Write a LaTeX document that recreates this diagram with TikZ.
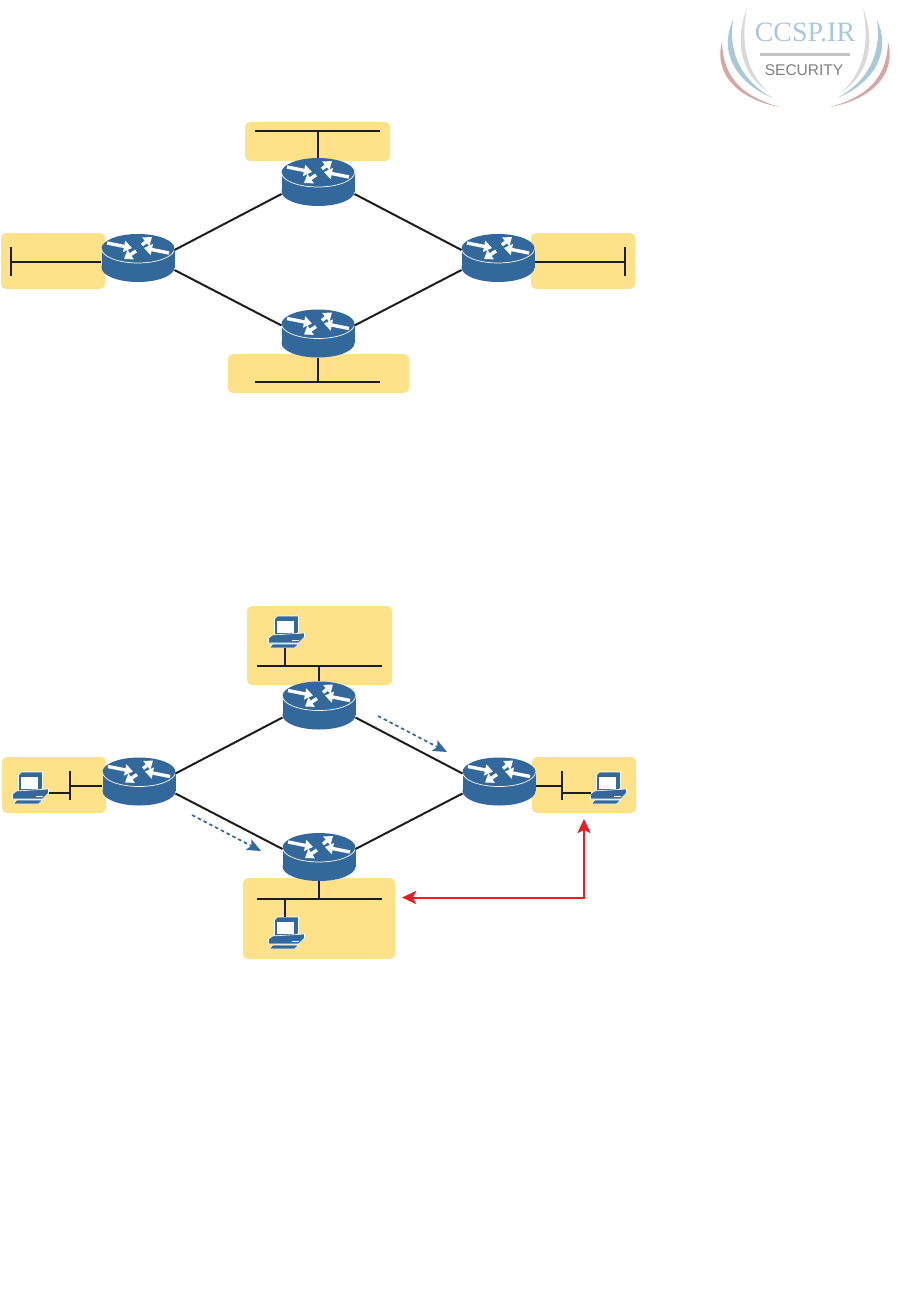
\documentclass[tikz,border=0pt]{standalone}
\usepackage{fontspec}
\usetikzlibrary{arrows.meta}
\newfontfamily\logoserif{Liberation Serif}
\newfontfamily\logosans{Liberation Sans}
\definecolor{routerblue}{HTML}{33689C}
\definecolor{lanyellow}{HTML}{FDE28A}
\definecolor{lanblack}{HTML}{1E1E1E}
\definecolor{pathred}{HTML}{ED1C24}
\definecolor{logoblue}{HTML}{A9C9D9}
\definecolor{logored}{HTML}{D8A5A5}
\definecolor{logogray}{HTML}{D9D9D9}
\tikzset{
  rtarrow/.style={white, line width=3.4pt, -{Triangle[length=8pt,width=11pt]}},
  router/.pic={
    \fill[routerblue] (-36.5,-9.5) rectangle (36.5,9.5);
    \fill[routerblue] (0,9.5) ellipse [x radius=36.5, y radius=14.5];
    \fill[routerblue] (0,-9.5) ellipse [x radius=36.5, y radius=14.5];
    \draw[white, line width=.7pt] (-36.5,-9.5) arc[start angle=180, end angle=0, x radius=36.5, y radius=14.5];
    \draw[rtarrow] (-31,-15) -- (-6,-10);
    \draw[rtarrow] (4,-13) -- (14,-21);
    \draw[rtarrow] (31,-5) -- (6,-10);
    \draw[rtarrow] (-2,-7) -- (-14,1);
    \node[minimum width=73pt, minimum height=48pt, inner sep=0pt] (-body) at (0,0) {};
    \coordinate (-ul) at (-36.5,-8);
    \coordinate (-ur) at (36.5,-8);
    \coordinate (-ll) at (-36.5,12);
    \coordinate (-lr) at (36.5,12);
  },
  pc/.pic={
    \fill[routerblue, draw=white, line width=.6pt] (6,3) -- (9,0) -- (30,0) -- (30,16) -- (27,19) -- (6,19) -- cycle;
    \fill[white] (8,5) rectangle (25,17);
    \fill[routerblue, draw=white, line width=.6pt] (0,22) -- (4,19) -- (36,17) -- (36,21) -- (30,27) -- (0,27) -- cycle;
    \fill[white] (23,23.5) rectangle (30,24.5);
    \fill[routerblue, draw=white, line width=.6pt] (4,28) -- (30,28) -- (26,32) -- (1,32) -- cycle;
    \coordinate (-top) at (16.5,0);
    \coordinate (-bot) at (16.5,32);
    \coordinate (-left) at (0,21);
    \coordinate (-right) at (36,21);
  },
  lanbox/.style={fill=lanyellow, rounded corners=5pt, inner sep=0pt},
  lanbar/.style={fill=lanblack, inner sep=0pt, minimum width=#1, minimum height=2pt},
  lanpost/.style={fill=lanblack, inner sep=0pt, minimum width=2pt, minimum height=#1},
  lan/.style={draw=lanblack, line width=2pt},
  link/.style={draw=lanblack, line width=2pt},
  flow/.style={routerblue, line width=1.7pt, dash pattern=on 3.5pt off 3pt, -{Stealth[length=14pt,width=12pt,inset=3pt]}},
  pathline/.style={pathred, line width=2pt, {Stealth[length=14pt,width=13pt,inset=3pt]}-{Stealth[length=14pt,width=13pt,inset=3pt]}}
}
\begin{document}
\begin{tikzpicture}[x=1pt,y=-1pt]
\path[use as bounding box, fill=white] (0,0) rectangle (917,1314);
% logo
\foreach \s in {1,-1} {
  \begin{scope}[shift={(805,0)}, xscale=\s]
    \fill[logogray] (-58,8) .. controls (-72,45) and (-62,75) .. (-37,92) .. controls (-58,72) and (-65,45) .. (-58,8);
    \fill[logoblue] (-72,20) .. controls (-88,55) and (-65,85) .. (-32,98) .. controls (-62,82) and (-77,55) .. (-72,20);
    \fill[logored] (-83,42) .. controls (-92,75) and (-65,100) .. (-25,107) .. controls (-62,97) and (-82,78) .. (-83,42);
  \end{scope}
}
\node[inner sep=0pt, text=logoblue, font=\logoserif\fontsize{28}{28}\selectfont] (logotext) at (805,32) {CCSP.IR};
\node[inner sep=0pt, text=black!50, font=\logosans\fontsize{15.5}{15.5}\selectfont] (logosub) at (804,70) {SECURITY};
\fill[logogray!90!black] (760,53.5) rectangle (850,56);
% upper network
\node[lanbox, minimum width=145pt, minimum height=39pt] (boxat) at (317.5,141.5) {};
\node[lanbox, minimum width=104pt, minimum height=56pt] (boxal) at (53,261) {};
\node[lanbox, minimum width=104pt, minimum height=56pt] (boxar) at (583,261) {};
\node[lanbox, minimum width=181pt, minimum height=39pt] (boxab) at (318.5,373.5) {};
\node[lanbar=125pt] (barat) at (317.5,131) {};
\node[lanbar=125pt] (barab) at (317.5,382) {};
\node[lanpost=29pt] (baral) at (11,261.5) {};
\node[lanpost=29pt] (barar) at (625,261.5) {};
% lower network
\node[lanbox, minimum width=145pt, minimum height=79pt] (boxbt) at (319.5,645.5) {};
\node[lanbox, minimum width=104pt, minimum height=56pt] (boxbl) at (54,785) {};
\node[lanbox, minimum width=104pt, minimum height=56pt] (boxbr) at (584,785) {};
\node[lanbox, minimum width=152pt, minimum height=81pt] (boxbb) at (319,918.5) {};
\node[lanbar=125pt] (barbt) at (319.5,665.5) {};
\node[lanbar=125pt] (barbb) at (319.5,899) {};
\node[lanpost=29pt] (barbl) at (70,785.5) {};
\node[lanpost=29pt] (barbr) at (562,785.5) {};
\foreach \n/\dx/\dy in {a/0/0,b/1/523.5} {
  \pic (rt\n t) at (318+\dx,182+\dy) {router};
  \pic (rt\n b) at (318+\dx,333.5+\dy) {router};
  \pic (rt\n l) at (138+\dx,258+\dy) {router};
  \pic (rt\n r) at (498+\dx,258+\dy) {router};
  \draw[link] (rt\n l-ur) -- (rt\n t-ll);
  \draw[link] (rt\n t-lr) -- (rt\n r-ul);
  \draw[link] (rt\n l-lr) -- (rt\n b-ul);
  \draw[link] (rt\n b-ur) -- (rt\n r-ll);
}
\pic (pct) at (268.5,616) {pc};
\pic (pcb) at (268.5,917) {pc};
\pic (pcl) at (12.5,772) {pc};
\pic (pcr) at (590.5,772) {pc};
\draw[lan] (rtat-body.north) -- (rtat-body.north |- barat);
\draw[lan] (rtab-body.south) -- (rtab-body.south |- barab);
\draw[lan] (baral.center) -- (baral.center -| rtal-body.west);
\draw[lan] (barar.center) -- (barar.center -| rtar-body.east);
\draw[lan] (rtbt-body.north) -- (rtbt-body.north |- barbt);
\draw[lan] (rtbb-body.south) -- (rtbb-body.south |- barbb);
\draw[lan] (barbl.center) -- (barbl.center -| rtbl-body.west);
\draw[lan] (barbr.center) -- (barbr.center -| rtbr-body.east);
\draw[lan] (pct-bot) -- (pct-bot |- barbt);
\draw[lan] (pcb-top) -- (pcb-top |- barbb);
\draw[lan] (pcl-right) -- (pcl-right -| barbl);
\draw[lan] (pcr-left) -- (pcr-left -| barbr);
% traffic arrows
\coordinate (flowas) at (378,716);
\coordinate (flowae) at (447,752);
\coordinate (flowbs) at (192,815);
\coordinate (flowbe) at (261,851);
\draw[flow] (flowas) -- (flowae);
\draw[flow] (flowbs) -- (flowbe);
\coordinate (pathl) at (402,897.5);
\coordinate (pathr) at (584,819);
\draw[pathline] (pathl) -| (pathr);
\end{tikzpicture}
\end{document}
